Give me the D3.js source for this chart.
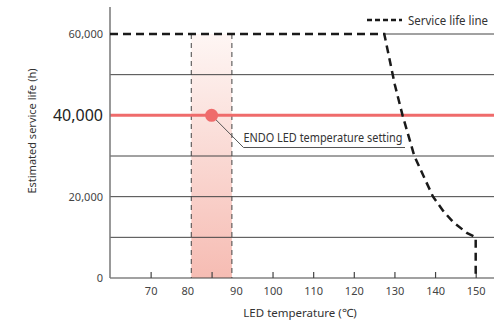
<!DOCTYPE html>
<html><head><meta charset="utf-8">
<script src="https://cdn.jsdelivr.net/npm/d3@7"></script>
<style>
html,body{margin:0;padding:0;background:#fff;}
svg{display:block;font-family:"Noto Sans","Open Sans",sans-serif;}
</style></head>
<body><svg id="chart" width="494" height="324"></svg>
<script>
// ---- data ----
const xTickLabels = [70, 80, 90, 100, 110, 120, 130, 140, 150];
const xTickMarks = [70, 85, 100, 110, 120, 130, 140, 150];
const yTickLabels = [0, 20000, 40000, 60000];
const gridValues = [10000, 20000, 30000, 50000];
const serviceTemp = [60, 127.5, 130.1, 132, 134.9, 137.6, 139.5, 142, 144.4, 147.8, 150, 150];
const serviceHours = [60000, 60000, 47500, 40000, 30000, 24100, 20000, 16500, 13800, 11100, 10000, 0];
const settingBand = [80, 90];
const settingTemp = 85;
const settingHours = 40000;
const settingLabel = "ENDO LED temperature setting";
const legendLabel = "Service life line";
const xTitle = "LED temperature (℃)";
const yTitle = "Estimated service life (h)";

const svg = d3.select("#chart");
const W = 494, H = 324;
const x = d3.scaleLinear().domain([60, 150]).range([110, 475.7]);
const y = d3.scaleLinear().domain([0, 60000]).range([278, 34]);
const xRight = W;

// band gradient
const defs = svg.append("defs");
const grad = defs.append("linearGradient").attr("id", "bandGrad")
  .attr("x1", 0).attr("y1", 0).attr("x2", 0).attr("y2", 1);
grad.append("stop").attr("offset", "0%").attr("stop-color", "#fef6f4");
grad.append("stop").attr("offset", "100%").attr("stop-color", "#f6bcb3");

svg.append("rect")
  .attr("x", x(settingBand[0])).attr("y", y(60000))
  .attr("width", x(settingBand[1]) - x(settingBand[0]))
  .attr("height", y(0) - y(60000))
  .attr("fill", "url(#bandGrad)");

// gridlines
svg.selectAll("line.grid").data(gridValues).enter().append("line")
  .attr("class", "grid")
  .attr("x1", x(60)).attr("x2", xRight)
  .attr("y1", d => y(d)).attr("y2", d => y(d))
  .attr("stroke", "#444").attr("stroke-width", 1);
svg.append("line")
  .attr("x1", x(serviceTemp[1])).attr("x2", xRight)
  .attr("y1", y(60000)).attr("y2", y(60000))
  .attr("stroke", "#444").attr("stroke-width", 1);

// band borders
svg.selectAll("line.bandEdge").data(settingBand).enter().append("line")
  .attr("x1", d => x(d)).attr("x2", d => x(d))
  .attr("y1", y(60000)).attr("y2", y(0))
  .attr("stroke", "#444").attr("stroke-width", 1)
  .attr("stroke-dasharray", "5,4");

// red setting line
svg.append("line")
  .attr("x1", x(60)).attr("x2", xRight)
  .attr("y1", y(settingHours)).attr("y2", y(settingHours))
  .attr("stroke", "#ef6b6b").attr("stroke-width", 3);

// x axis baseline + labels
const xAxis = svg.append("g").attr("transform", `translate(0,${y(0)})`)
  .call(d3.axisBottom(x).tickValues(xTickLabels).tickSize(0).tickPadding(9).tickFormat(d3.format("d")));
xAxis.select(".domain").remove();
xAxis.selectAll("text").attr("font-size", 11).attr("fill", "#444")
  .attr("font-family", "Noto Sans")
  .attr("dx", d => d === 80 ? -4 : d === 90 ? 4 : 0);
svg.append("line").attr("x1", x(60)).attr("x2", xRight)
  .attr("y1", y(0)).attr("y2", y(0)).attr("stroke", "#444").attr("stroke-width", 1.2);
// inner tick marks
const xTicksG = svg.append("g").attr("transform", `translate(0,${y(0)})`)
  .call(d3.axisBottom(x).tickValues(xTickMarks).tickSize(-6).tickFormat(""));
xTicksG.select(".domain").remove();
xTicksG.selectAll("line").attr("stroke", "#444").attr("stroke-width", 1.2);

// y axis
svg.append("line").attr("x1", x(60)).attr("x2", x(60))
  .attr("y1", 7).attr("y2", y(0)).attr("stroke", "#777").attr("stroke-width", 1.5);
const yAxis = svg.append("g").attr("transform", `translate(${x(60)},0)`)
  .call(d3.axisLeft(y).tickValues(yTickLabels).tickSize(0).tickPadding(7).tickFormat(d3.format(",")));
yAxis.select(".domain").remove();
yAxis.selectAll("text")
  .attr("font-family", "Noto Sans")
  .attr("font-size", d => d === settingHours ? 16 : 11)
  .attr("fill", d => d === settingHours ? "#222" : "#444");

// service life line
const pts = serviceTemp.map((t, i) => [t, serviceHours[i]]);
svg.append("path")
  .attr("d", d3.line().x(d => x(d[0])).y(d => y(d[1]))(pts))
  .attr("fill", "none").attr("stroke", "#1a1a1a").attr("stroke-width", 2.5)
  .attr("stroke-dasharray", "8,5");

// leader and label
const px = x(settingTemp), py = y(settingHours);
const elbowX = 243.5, elbowY = 147.5, endX = 405;
svg.append("polyline")
  .attr("points", `${px},${py} ${elbowX},${elbowY} ${endX},${elbowY}`)
  .attr("fill", "none").attr("stroke", "#555").attr("stroke-width", 1);
svg.append("circle").attr("cx", px).attr("cy", py).attr("r", 6.5).attr("fill", "#ef6b6b");
svg.append("text").attr("x", elbowX).attr("y", 142)
  .attr("font-size", 12).attr("fill", "#333")
  .attr("textLength", 159).attr("lengthAdjust", "spacingAndGlyphs")
  .text(settingLabel);

// legend
svg.append("line").attr("x1", 367).attr("x2", 402).attr("y1", 20).attr("y2", 20)
  .attr("stroke", "#1a1a1a").attr("stroke-width", 2.5).attr("stroke-dasharray", "5,3");
svg.append("text").attr("x", 408).attr("y", 24.5).attr("font-size", 12.5).attr("fill", "#333")
  .attr("textLength", 80).attr("lengthAdjust", "spacingAndGlyphs")
  .text(legendLabel);

// titles
svg.append("text").attr("x", 300).attr("y", 317).attr("text-anchor", "middle")
  .attr("font-size", 11.5).attr("fill", "#333").text(xTitle);
svg.append("text").attr("transform", `translate(36,131) rotate(-90)`).attr("text-anchor", "middle")
  .attr("font-size", 11).attr("fill", "#333").text(yTitle);
</script></body></html>
